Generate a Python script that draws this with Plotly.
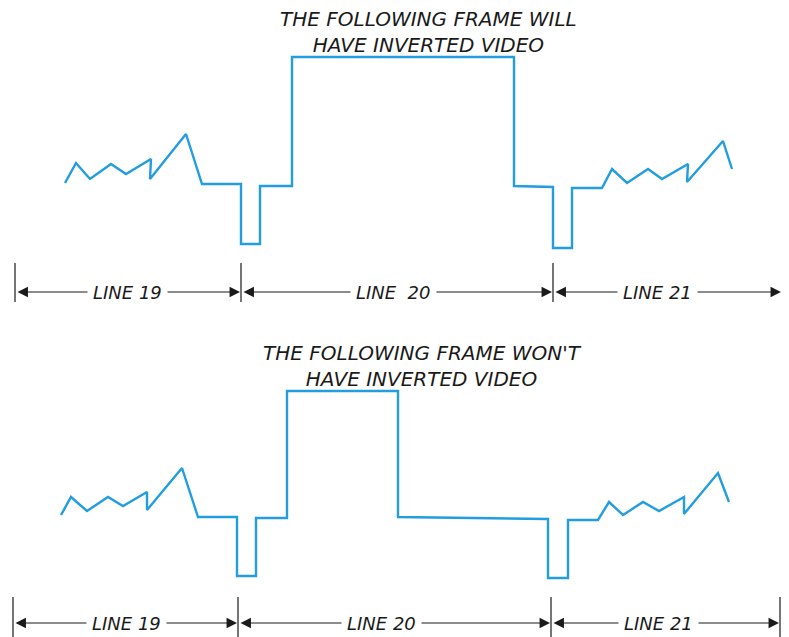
import plotly.graph_objects as go

# Waveform samples: horizontal time position, signal level relative to blanking
top_t = [65, 76, 90, 111, 126, 151, 150, 186, 202, 241, 241, 260, 260, 292, 292,
         514, 514, 553, 553, 572, 572, 602, 612, 627, 648, 662, 688, 687, 723, 732]
top_v = [2, 22, 6, 21, 11, 26, 6, 51, 1, 1, -59, -59, -1, -1, 128,
         128, -1, -2, -63, -63, -3, -3, 16, 2, 16, 6, 21, 3, 44, 16]

bot_t = [61, 71, 87, 108, 123, 147, 147, 182, 198, 237, 237, 256, 256, 287, 287,
         398, 398, 548, 548, 568, 568, 598, 609, 623, 643, 659, 684, 684, 718, 729]
bot_v = [2, 20, 6, 20, 11, 25, 7, 49, 0, 0, -59, -59, -1, -1, 126,
         126, 0, -2, -61, -61, -3, -3, 15, 2, 15, 6, 20, 3, 44, 15]

# Scan-line boundaries for each panel
top_bounds = [15, 241, 553, 782]
bot_bounds = [13, 238, 551, 780]
top_line_labels = ["LINE 19", "LINE  20", "LINE 21"]
bot_line_labels = ["LINE 19", "LINE 20", "LINE 21"]

top_title = ["THE FOLLOWING FRAME WILL", "HAVE INVERTED VIDEO"]
bot_title = ["THE FOLLOWING FRAME WON'T", "HAVE INVERTED VIDEO"]

BLUE = "#229de0"
INK = "#1a1a1a"
FONT = "DejaVu Sans"

fig = go.Figure()

fig.add_trace(go.Scatter(x=top_t, y=top_v, mode="lines", xaxis="x", yaxis="y",
                         line=dict(color=BLUE, width=2.4), hoverinfo="skip"))
fig.add_trace(go.Scatter(x=bot_t, y=bot_v, mode="lines", xaxis="x", yaxis="y2",
                         line=dict(color=BLUE, width=2.4), hoverinfo="skip"))


def dimension_line(yref, bounds, labels, label_x, y_line, tick_top, tick_bot):
    # vertical ticks at the line boundaries
    for b in bounds:
        fig.add_shape(type="line", xref="x", yref=yref, x0=b, x1=b,
                      y0=tick_bot, y1=tick_top, line=dict(color=INK, width=1.2))
    # double-headed arrows, label sits on a white box over the arrow
    for i, lab in enumerate(labels):
        a, b = bounds[i], bounds[i + 1]
        fig.add_annotation(x=b - 1, y=y_line, ax=a + 1, ay=y_line,
                           xref="x", yref=yref, axref="x", ayref=yref,
                           text="", showarrow=True, arrowside="end+start",
                           arrowhead=2, startarrowhead=2,
                           arrowsize=1.9, startarrowsize=1.9,
                           arrowwidth=1.1, arrowcolor=INK, standoff=0, startstandoff=0)
        fig.add_annotation(x=label_x[i], y=y_line, xref="x", yref=yref,
                           text=lab, showarrow=False, bgcolor="white", borderpad=5,
                           font=dict(family=FONT, size=18, color=INK, style="italic"))


dimension_line("y", top_bounds, top_line_labels, [127, 393, 657], -107, -78, -117)
dimension_line("y2", bot_bounds, bot_line_labels, [126, 381, 658], -106, -80, -125)

# headings
fig.add_annotation(x=428, y=153, xref="x", yref="y", text="<br>".join(top_title),
                   showarrow=False, align="center",
                   font=dict(family=FONT, size=20, color=INK, style="italic"))
fig.add_annotation(x=422, y=151, xref="x", yref="y2", text="<br>".join(bot_title),
                   showarrow=False, align="center",
                   font=dict(family=FONT, size=20, color=INK, style="italic"))

# the page keeps an 8px body margin, so the figure starts 8px in from the corner
split = 319 / 629
fig.update_layout(
    width=781, height=629,
    margin=dict(l=0, r=0, t=0, b=0),
    showlegend=False,
    plot_bgcolor="white", paper_bgcolor="white",
    xaxis=dict(range=[8, 789], domain=[0, 1], visible=False, fixedrange=True),
    yaxis=dict(range=[-133, 177], domain=[split, 1], visible=False, fixedrange=True),
    yaxis2=dict(range=[-120, 199], domain=[0, split], visible=False, fixedrange=True,
                anchor="x"),
)

fig.write_html("out.html")
